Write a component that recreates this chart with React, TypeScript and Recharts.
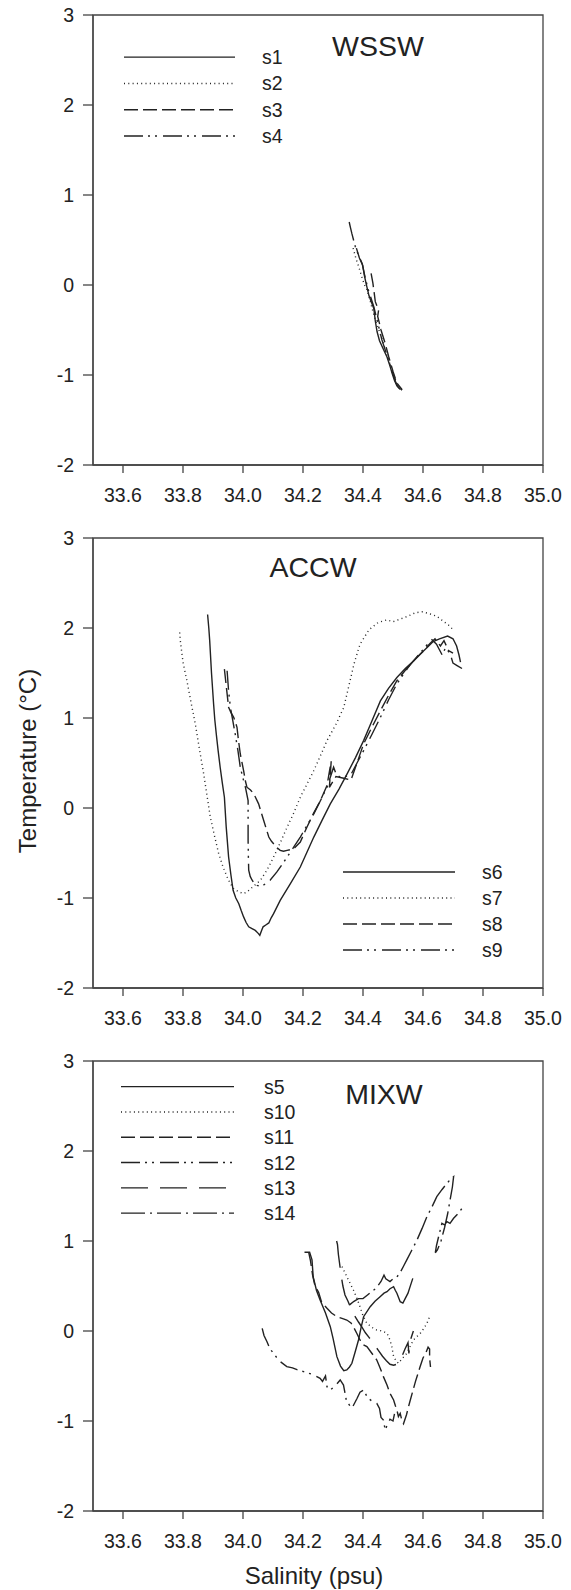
import React from 'react';
import { LineChart, Line, XAxis, YAxis, ReferenceArea, Legend } from 'recharts';

const FONT = '"Liberation Sans", Arial, Helvetica, sans-serif';
const INK = '#222';
const AXIS = '#444';

const salTicks = [33.6, 33.8, 34.0, 34.2, 34.4, 34.6, 34.8, 35.0];
const tempTicks = [-2, -1, 0, 1, 2, 3];

// ---- WSSW (salinity, temperature) ----
const s1 = [[34.378, 0.41], [34.388, 0.30], [34.399, 0.22], [34.405, 0.10], [34.41, 0.02], [34.42, -0.12], [34.436, -0.26], [34.441, -0.40], [34.447, -0.52], [34.455, -0.62], [34.466, -0.70], [34.48, -0.80], [34.49, -0.90], [34.497, -0.98], [34.505, -1.06], [34.513, -1.12], [34.525, -1.16]];
const s2 = [[34.367, 0.41], [34.376, 0.30], [34.386, 0.20], [34.397, 0.08], [34.405, 0.0], [34.413, -0.05], [34.424, -0.18], [34.436, -0.33], [34.45, -0.47], [34.465, -0.62], [34.48, -0.78], [34.492, -0.90], [34.505, -1.02], [34.515, -1.12], [34.53, -1.17]];
const s3 = [[34.427, 0.13], [34.433, 0.02], [34.437, -0.08], [34.441, -0.185], [34.452, -0.28], [34.449, -0.35], [34.455, -0.43], [34.46, -0.50], [34.474, -0.65], [34.486, -0.80], [34.50, -0.96], [34.513, -1.09], [34.53, -1.16]];
const s4 = [[34.354, 0.70], [34.358, 0.64], [34.363, 0.57], [34.374, 0.43], [34.385, 0.33], [34.397, 0.24], [34.408, 0.07], [34.419, -0.07], [34.436, -0.24], [34.447, -0.39], [34.463, -0.61], [34.48, -0.78], [34.497, -0.96], [34.508, -1.07], [34.516, -1.13], [34.524, -1.16], [34.519, -1.14], [34.533, -1.17]];

// ---- ACCW ----
const s6 = [[33.882, 2.15], [33.886, 2.0], [33.889, 1.86], [33.895, 1.5], [33.902, 1.155], [33.906, 0.98], [33.911, 0.82], [33.917, 0.64], [33.924, 0.45], [33.931, 0.28], [33.938, 0.12], [33.944, -0.21], [33.952, -0.545], [33.96, -0.75], [33.967, -0.915], [33.976, -1.0], [33.986, -1.063], [33.994, -1.14], [34.002, -1.21], [34.01, -1.27], [34.019, -1.32], [34.03, -1.34], [34.041, -1.36], [34.05, -1.39], [34.056, -1.414], [34.062, -1.36], [34.067, -1.32], [34.076, -1.30], [34.086, -1.277], [34.094, -1.22], [34.102, -1.174], [34.124, -1.026], [34.158, -0.84], [34.191, -0.656], [34.212, -0.5], [34.236, -0.323], [34.263, -0.14], [34.291, 0.046], [34.32, 0.21], [34.347, 0.379], [34.375, 0.56], [34.402, 0.749], [34.43, 0.97], [34.458, 1.19], [34.485, 1.33], [34.513, 1.45], [34.541, 1.55], [34.569, 1.636], [34.591, 1.71], [34.613, 1.78], [34.634, 1.85], [34.655, 1.88], [34.682, 1.91], [34.70, 1.88], [34.712, 1.80], [34.72, 1.70], [34.725, 1.62]];
const s7 = [[33.789, 1.95], [33.791, 1.86], [33.80, 1.62], [33.813, 1.414], [33.827, 1.17], [33.841, 0.933], [33.855, 0.65], [33.869, 0.379], [33.88, 0.14], [33.891, -0.10], [33.905, -0.31], [33.919, -0.508], [33.933, -0.65], [33.947, -0.767], [33.958, -0.84], [33.969, -0.896], [33.985, -0.93], [34.002, -0.952], [34.013, -0.933], [34.035, -0.87], [34.058, -0.804], [34.08, -0.69], [34.102, -0.545], [34.125, -0.38], [34.147, -0.213], [34.17, -0.05], [34.191, 0.12], [34.214, 0.27], [34.236, 0.416], [34.258, 0.58], [34.28, 0.749], [34.31, 0.93], [34.336, 1.118], [34.37, 1.6], [34.39, 1.82], [34.42, 1.98], [34.45, 2.06], [34.48, 2.09], [34.50, 2.07], [34.525, 2.1], [34.549, 2.13], [34.575, 2.17], [34.597, 2.18], [34.62, 2.16], [34.646, 2.13], [34.67, 2.07], [34.69, 2.02], [34.70, 1.98]];
const s8 = [[33.938, 1.543], [33.945, 1.33], [33.952, 1.118], [33.96, 1.06], [33.969, 1.007], [33.975, 0.95], [33.98, 0.896], [33.985, 0.75], [33.991, 0.60], [34.002, 0.416], [34.008, 0.30], [34.013, 0.231], [34.025, 0.2], [34.036, 0.157], [34.052, 0.046], [34.069, -0.139], [34.086, -0.323], [34.095, -0.37], [34.102, -0.397], [34.113, -0.44], [34.124, -0.471], [34.135, -0.48], [34.147, -0.471], [34.169, -0.453], [34.191, -0.379], [34.213, -0.213], [34.235, -0.06], [34.258, 0.083], [34.28, 0.25], [34.294, 0.52], [34.288, 0.23], [34.31, 0.35], [34.336, 0.33], [34.36, 0.31], [34.38, 0.5], [34.402, 0.712], [34.43, 0.9], [34.458, 1.081], [34.485, 1.25], [34.513, 1.414], [34.541, 1.53], [34.569, 1.636], [34.6, 1.74], [34.624, 1.83], [34.64, 1.88], [34.658, 1.80], [34.67, 1.86], [34.685, 1.75], [34.70, 1.72]];
const s9 = [[33.947, 1.525], [33.952, 1.3], [33.958, 1.118], [33.966, 0.97], [33.974, 0.823], [33.983, 0.64], [33.991, 0.453], [34.0, 0.33], [34.008, 0.231], [34.017, 0.083], [34.017, -0.15], [34.017, -0.36], [34.018, -0.55], [34.019, -0.69], [34.024, -0.76], [34.03, -0.80], [34.038, -0.84], [34.047, -0.86], [34.057, -0.87], [34.067, -0.86], [34.08, -0.83], [34.091, -0.80], [34.113, -0.71], [34.13, -0.63], [34.147, -0.545], [34.17, -0.43], [34.191, -0.323], [34.214, -0.19], [34.236, -0.065], [34.258, 0.08], [34.28, 0.231], [34.302, 0.453], [34.31, 0.38], [34.324, 0.342], [34.358, 0.36], [34.38, 0.5], [34.402, 0.638], [34.43, 0.82], [34.458, 1.007], [34.485, 1.2], [34.513, 1.38], [34.55, 1.56], [34.58, 1.68], [34.61, 1.8], [34.63, 1.87], [34.645, 1.82], [34.664, 1.70], [34.675, 1.78], [34.69, 1.72], [34.70, 1.61], [34.715, 1.58], [34.73, 1.55]];

// ---- MIXW ----
const s5 = [[34.205, 0.875], [34.222, 0.875], [34.23, 0.79], [34.234, 0.6], [34.245, 0.45], [34.257, 0.344], [34.275, 0.2], [34.291, 0.048], [34.30, -0.08], [34.313, -0.285], [34.325, -0.39], [34.336, -0.44], [34.346, -0.433], [34.355, -0.40], [34.363, -0.359], [34.375, -0.22], [34.385, -0.1], [34.393, 0.03], [34.402, 0.159], [34.424, 0.27], [34.44, 0.33], [34.457, 0.381], [34.47, 0.42], [34.48, 0.437], [34.49, 0.47], [34.502, 0.493], [34.508, 0.45], [34.513, 0.419], [34.524, 0.326], [34.533, 0.31], [34.541, 0.363], [34.55, 0.42], [34.557, 0.493], [34.566, 0.585]];
const s10 = [[34.33, 0.715], [34.338, 0.66], [34.346, 0.604], [34.357, 0.53], [34.368, 0.456], [34.38, 0.36], [34.39, 0.27], [34.40, 0.17], [34.413, 0.085], [34.43, 0.04], [34.446, 0.011], [34.465, 0.0], [34.48, -0.026], [34.49, -0.1], [34.496, -0.174], [34.502, -0.285], [34.51, -0.33], [34.518, -0.359], [34.53, -0.31], [34.546, -0.248], [34.557, -0.17], [34.568, -0.1], [34.58, -0.06], [34.591, -0.026], [34.603, 0.03], [34.613, 0.085], [34.622, 0.159]];
const s11 = [[34.219, 0.875], [34.225, 0.78], [34.232, 0.62], [34.24, 0.5], [34.252, 0.43], [34.262, 0.32], [34.28, 0.252], [34.295, 0.2], [34.313, 0.159], [34.33, 0.14], [34.346, 0.122], [34.36, 0.09], [34.368, 0.048], [34.38, -0.03], [34.39, -0.1], [34.4, -0.15], [34.413, -0.174], [34.43, -0.25], [34.446, -0.322], [34.457, -0.41], [34.468, -0.507], [34.48, -0.6], [34.49, -0.693], [34.502, -0.767], [34.508, -0.83], [34.513, -0.878], [34.518, -0.95], [34.524, -0.915], [34.53, -1.0], [34.535, -1.03], [34.545, -0.93], [34.555, -0.8], [34.565, -0.68], [34.575, -0.56], [34.59, -0.40], [34.60, -0.3], [34.61, -0.24], [34.617, -0.18], [34.622, -0.2], [34.622, -0.3], [34.625, -0.40]];
const s12 = [[34.064, 0.03], [34.07, -0.05], [34.08, -0.12], [34.09, -0.2], [34.102, -0.248], [34.12, -0.33], [34.146, -0.396], [34.165, -0.41], [34.18, -0.43], [34.202, -0.452], [34.23, -0.48], [34.257, -0.526], [34.265, -0.56], [34.275, -0.50], [34.28, -0.62], [34.291, -0.656], [34.31, -0.6], [34.324, -0.544], [34.335, -0.6], [34.345, -0.78], [34.363, -0.859], [34.38, -0.75], [34.39, -0.68], [34.402, -0.656], [34.415, -0.74], [34.43, -0.78], [34.446, -0.804], [34.455, -0.86], [34.46, -0.96], [34.468, -0.989], [34.474, -1.1], [34.48, -1.05], [34.49, -0.98], [34.50, -1.0], [34.505, -0.92]];
const s13 = [[34.312, 1.0], [34.315, 0.96], [34.318, 0.85], [34.322, 0.75], [34.327, 0.62], [34.333, 0.5], [34.34, 0.4], [34.35, 0.33], [34.36, 0.25], [34.372, 0.17], [34.385, 0.1], [34.395, 0.05], [34.408, -0.02], [34.42, -0.07], [34.435, -0.14], [34.45, -0.21], [34.465, -0.28], [34.478, -0.33], [34.49, -0.37], [34.502, -0.38], [34.512, -0.37], [34.52, -0.33], [34.53, -0.28], [34.54, -0.2], [34.55, -0.13], [34.553, -0.25], [34.558, -0.1], [34.563, -0.05], [34.568, 0.0]];
const s14 = [[34.355, 0.29], [34.37, 0.33], [34.385, 0.36], [34.40, 0.36], [34.415, 0.40], [34.43, 0.44], [34.445, 0.48], [34.46, 0.55], [34.47, 0.62], [34.476, 0.58], [34.49, 0.55], [34.50, 0.58], [34.513, 0.6], [34.524, 0.65], [34.535, 0.72], [34.546, 0.79], [34.563, 0.9], [34.58, 1.011], [34.597, 1.14], [34.613, 1.27], [34.63, 1.38], [34.646, 1.493], [34.663, 1.57], [34.68, 1.641], [34.69, 1.68], [34.702, 1.715], [34.698, 1.6], [34.69, 1.45], [34.682, 1.3], [34.672, 1.15], [34.66, 1.0], [34.648, 0.9], [34.641, 0.87], [34.645, 0.95], [34.652, 1.048], [34.663, 1.196], [34.672, 1.18], [34.68, 1.215], [34.69, 1.196], [34.702, 1.252], [34.718, 1.307], [34.73, 1.363]];

const SOLID = undefined;
const DOT = '1 3.3';
const DASH = '14 5';
const DASH_DOT_DOT = '19 5 2 5 2 6';
const LONG_DASH = '27 12';
const DASH_DOT = '24 5 2 5';

type Series = { name: string; pts: number[][]; dash?: string };

const wssw: Series[] = [
  { name: 's1', pts: s1, dash: SOLID },
  { name: 's2', pts: s2, dash: DOT },
  { name: 's3', pts: s3, dash: DASH },
  { name: 's4', pts: s4, dash: DASH_DOT_DOT },
];
const accw: Series[] = [
  { name: 's6', pts: s6, dash: SOLID },
  { name: 's7', pts: s7, dash: DOT },
  { name: 's8', pts: s8, dash: DASH },
  { name: 's9', pts: s9, dash: DASH_DOT_DOT },
];
const mixw: Series[] = [
  { name: 's5', pts: s5, dash: SOLID },
  { name: 's10', pts: s10, dash: DOT },
  { name: 's11', pts: s11, dash: DASH },
  { name: 's12', pts: s12, dash: DASH_DOT_DOT },
  { name: 's13', pts: s13, dash: LONG_DASH },
  { name: 's14', pts: s14, dash: DASH_DOT },
];

const toRows = (pts: number[][]) => pts.map(([x, y]) => ({ x, y }));

const tickStyle = { fill: INK, fontSize: 19.5, fontFamily: FONT };

type PanelProps = {
  series: Series[];
  title: string;
  titleDx: number;
  titleDy: number;
  legendLeft: number;
  legendTop: number;
  legendStep: number;
  lineLen: number;
  labelDx: number;
  height: number;
  yLabel?: string;
  xLabel?: string;
};

function Panel(p: PanelProps) {
  const renderLegend = () => (
    <svg width={180} height={p.legendStep * p.series.length} style={{ display: 'block', overflow: 'visible' }}>
      {p.series.map((s, i) => {
        const y = p.legendStep / 2 + i * p.legendStep;
        return (
          <g key={s.name}>
            <line x1={0} x2={p.lineLen} y1={y} y2={y} stroke={INK} strokeWidth={1.4} strokeDasharray={s.dash} />
            <text x={p.labelDx} y={y} dominantBaseline="central" fontSize={19.5} fontFamily={FONT} fill={INK}>
              {s.name}
            </text>
          </g>
        );
      })}
    </svg>
  );

  const renderTitle = (props: any) => {
    const vb = props.viewBox;
    return (
      <text x={vb.x + p.titleDx} y={vb.y + p.titleDy} textAnchor="middle" fontSize={28.5} fontFamily={FONT} fill={INK}>
        {p.title}
      </text>
    );
  };

  const renderYLabel = (props: any) => {
    const vb = props.viewBox;
    const cx = 27;
    const cy = vb.y + vb.height / 2 - 2;
    return (
      <text x={cx} y={cy} transform={`rotate(-90 ${cx} ${cy})`} textAnchor="middle" dominantBaseline="central"
        fontSize={24} fontFamily={FONT} fill={INK}>
        {p.yLabel}
      </text>
    );
  };

  const renderXLabel = (props: any) => {
    const vb = props.viewBox;
    return (
      <text x={vb.x + vb.width / 2 - 4} y={vb.y + 64} textAnchor="middle" dominantBaseline="central"
        fontSize={24} fontFamily={FONT} fill={INK}>
        {p.xLabel}
      </text>
    );
  };

  return (
    <LineChart width={571} height={p.height} margin={{ top: 15, right: 28, bottom: 0, left: 0 }}>
      <XAxis
        type="number"
        dataKey="x"
        domain={[33.5, 35]}
        ticks={salTicks}
        allowDataOverflow
        tickFormatter={(v: number) => v.toFixed(1)}
        tickSize={8}
        tickMargin={15}
        height={p.height - 15 - 450}
        stroke={AXIS}
        strokeWidth={1.3}
        tick={tickStyle}
        label={p.xLabel ? { content: renderXLabel } : undefined}
      />
      <YAxis
        type="number"
        domain={[-2, 3]}
        ticks={tempTicks}
        allowDataOverflow
        width={93}
        tickSize={10}
        tickMargin={9}
        stroke={AXIS}
        strokeWidth={1.3}
        tick={tickStyle}
        label={p.yLabel ? { content: renderYLabel } : undefined}
      />
      <ReferenceArea x1={33.5} x2={35} y1={-2} y2={3} fill="none" fillOpacity={0} stroke={AXIS} strokeWidth={1.3}
        label={{ content: renderTitle }} />
      {p.series.map((s) => (
        <Line
          key={s.name}
          data={toRows(s.pts)}
          dataKey="y"
          name={s.name}
          type="linear"
          stroke={INK}
          strokeWidth={1.4}
          strokeDasharray={s.dash}
          dot={false}
          activeDot={false}
          isAnimationActive={false}
        />
      ))}
      <Legend
        layout="vertical"
        align="center"
        verticalAlign="middle"
        content={renderLegend}
        wrapperStyle={{ left: p.legendLeft, top: p.legendTop, width: 180, height: p.legendStep * p.series.length }}
      />
    </LineChart>
  );
}

export default function App() {
  return (
    <div style={{ position: 'absolute', left: 0, top: 0, width: 571, height: 1590, background: '#fff' }}>
      <Panel series={wssw} title="WSSW" titleDx={285} titleDy={41} legendLeft={124} legendTop={43.5}
        legendStep={26.3} lineLen={111} labelDx={138} height={523} />
      <Panel series={accw} title="ACCW" titleDx={220} titleDy={39} legendLeft={343} legendTop={335.5}
        legendStep={26} lineLen={112} labelDx={139} height={523} yLabel="Temperature (°C)" />
      <Panel series={mixw} title="MIXW" titleDx={291} titleDy={43} legendLeft={121} legendTop={28.4}
        legendStep={25.3} lineLen={113} labelDx={143} height={544} xLabel="Salinity (psu)" />
    </div>
  );
}
